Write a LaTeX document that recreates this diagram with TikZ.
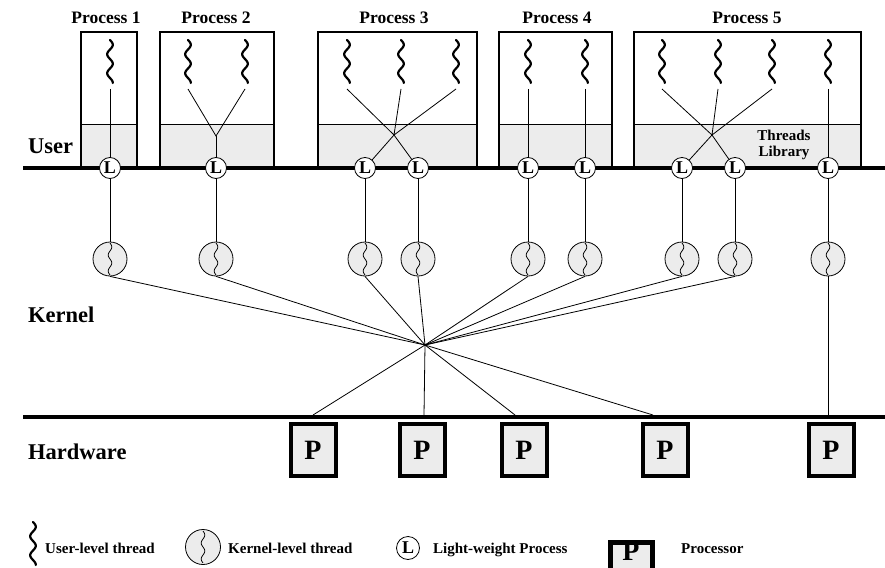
\documentclass[tikz,border=0pt]{standalone}
\usepackage{fontspec}
\setmainfont{Liberation Serif}
\definecolor{lgray}{HTML}{ECECEC}
\tikzset{
 lbl/.style={font=\fontsize{22.5}{24}\selectfont\bfseries, anchor=base west, inner sep=0},
 plbl/.style={font=\fontsize{17.5}{19}\selectfont\bfseries, anchor=base, inner sep=0},
 leg/.style={font=\fontsize{15}{17}\selectfont\bfseries, anchor=base west, inner sep=0},
 lwp/.style={circle, draw, fill=white, line width=0.8pt, minimum size=21pt, inner sep=0, font=\fontsize{18}{18}\selectfont\bfseries},
 kthr/.style={circle, draw, fill=lgray, line width=0.8pt, minimum size=34pt, inner sep=0},
 proc/.style={draw, fill=lgray, line width=4pt, minimum width=45pt, minimum height=52pt, inner sep=0, font=\fontsize{28}{28}\selectfont\bfseries},
 conn/.style={line width=0.8pt},
 bar/.style={line width=4.5pt},
 pbox/.style={line width=2pt, line join=miter},
 uthread/.pic={\draw[line width=2.2pt, line cap=round] plot[domain=0:43, samples=50, smooth] ({2.8*sin(\x*360/19)}, {\x});},
 kwave/.pic={\draw[line width=0.8pt] plot[domain=-16:16, samples=40, smooth] ({1.8*sin((\x+16)*360/16)}, {\x});},
}
\begin{document}
\begin{tikzpicture}[x=1pt, y=-1pt]
\useasboundingbox (0,0) rectangle (885,567);

% process boxes
\foreach \a/\b in {81/137,160/274,318/477,499/612,634/861}{
  \fill[lgray] (\a,124) rectangle (\b,168);
  \draw[line width=0.8pt] (\a,124) -- (\b,124);
  \draw[pbox] (\a,168) |- (\b,32) -- (\b,168);
}
\node[plbl] (pl1) at (106,24) {Process 1};
\node[plbl] (pl2) at (216,24) {Process 2};
\node[plbl] (pl3) at (394,24) {Process 3};
\node[plbl] (pl4) at (557,24) {Process 4};
\node[plbl] (pl5) at (747,24) {Process 5};
\node[font=\fontsize{15}{16}\selectfont\bfseries, align=center, inner sep=0] (tl) at (784,145) {Threads\\Library};

% user-level threads
\foreach \n/\x in {t1/110,t2a/188,t2b/245,t3a/347,t3b/401,t3c/456,t4a/528,t4b/585,t5a/662,t5b/718,t5c/772,t5d/828}{
  \pic at (\x,40) {uthread};
  \coordinate (\n) at (\x,89);
}
\coordinate (j2) at (216,136);
\coordinate (j3) at (394,135);
\coordinate (j5) at (712,135);

% side labels
\node[lbl] (user) at (28,153) {User};
\node[lbl] (kern) at (28,322) {Kernel};
\node[lbl] (hw) at (28,459) {Hardware};

% bars
\coordinate (ub0) at (23,168); \coordinate (ub1) at (885,168);
\coordinate (hb0) at (23,417); \coordinate (hb1) at (885,417);

% kernel threads
\foreach \n/\x in {1/110,2/216,3a/365,3b/418,4a/528,4b/585,5a/682,5b/735,5c/828}{
  \node[kthr] (k\n) at (\x,259) {};
  \pic at (\x,259) {kwave};
}
\coordinate (C) at (425,345);
\coordinate (h1) at (313,415);
\coordinate (h2) at (424,415);
\coordinate (h3) at (515,415);
\coordinate (h4) at (653,415);
\coordinate (h5) at (828,415);

% connectors user threads -> LWP
\draw[conn] (t1) -- (110,168);
\draw[conn] (t2a) -- (j2) -- (t2b);
\draw[conn] (j2) -- (216,168);
\draw[conn] (t3a) -- (j3) (t3b) -- (j3) (t3c) -- (j3);
\draw[conn] (j3) -- (365,168) (j3) -- (418,168);
\draw[conn] (t4a) -- (528,168) (t4b) -- (585,168);
\draw[conn] (t5a) -- (j5) (t5b) -- (j5) (t5c) -- (j5);
\draw[conn] (j5) -- (682,168) (j5) -- (735,168);
\draw[conn] (t5d) -- (828,168);

\draw[bar] (ub0) -- (ub1);
\draw[bar] (hb0) -- (hb1);

\foreach \n/\x in {1/110,2/216,3a/365,3b/418,4a/528,4b/585,5a/682,5b/735,5c/828}{
  \node[lwp] (l\n) at (\x,168) {L};
  \draw[conn] (l\n.south) -- (k\n.north);
}
\foreach \n in {1,2,3a,3b,4a,4b,5a,5b}{
  \draw[conn] (k\n.south) -- (C);
}
\foreach \n in {1,2,3,4}{
  \draw[conn] (C) -- (h\n);
}
\draw[conn] (k5c.south) -- (h5);

% processors
\foreach \n/\x in {1/313,2/422,3/524,4/665,5/831}{
  \node[proc] (p\n) at (\x,450) {P};
}

% legend
\pic at (33,522) {uthread};
\node[leg] (lg1) at (45,553) {User-level thread};
\node[kthr, minimum size=35pt] (lgk) at (203,547) {};
\pic at (203,547) {kwave};
\node[leg] (lg2) at (228,553) {Kernel-level thread};
\node[lwp, minimum size=23pt] (lgl) at (408,548) {L};
\node[leg] (lg3) at (433,553) {Light-weight Process};
\node[draw, fill=lgray, line width=5pt, minimum width=42pt, minimum height=70pt, anchor=north west] (lgp) at (607.5,539.5) {};
\node[font=\fontsize{28}{28}\selectfont\bfseries, inner sep=0] (lgpt) at (lgp.north |- 0,551) {P};
\node[leg] (lg4) at (681,553) {Processor};
\end{tikzpicture}
\end{document}
